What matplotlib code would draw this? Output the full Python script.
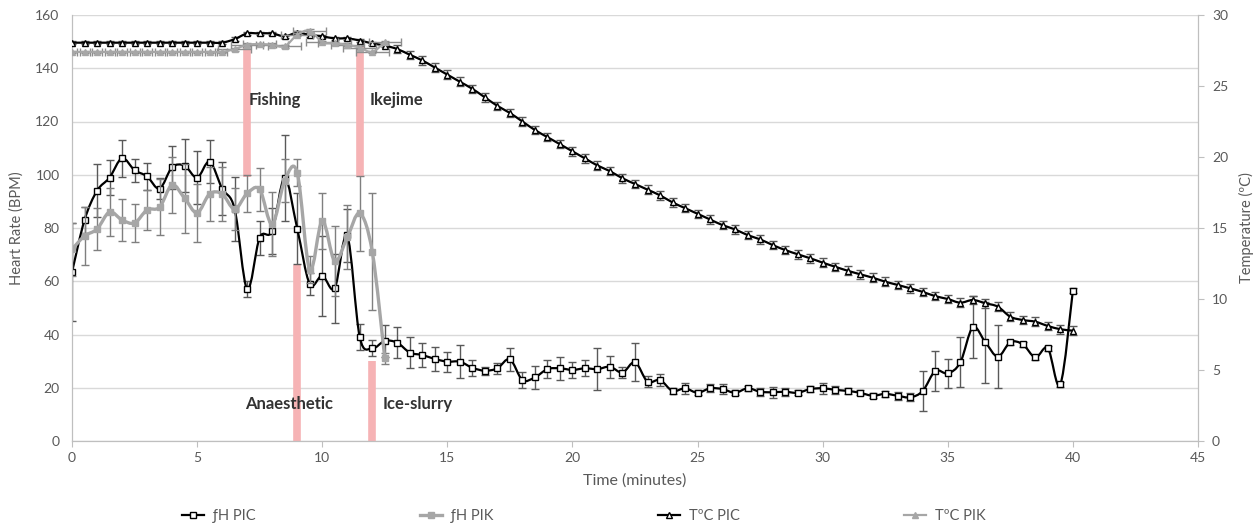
import numpy as np
import matplotlib.pyplot as plt
from matplotlib.path import Path
from matplotlib.patches import PathPatch
from matplotlib.lines import Line2D

plt.rcParams['font.family'] = ['Lato', 'DejaVu Sans']

# time axis (minutes), sampled every 0.5 min
t_pic = np.arange(0, 40.5, 0.5)
t_pik = np.arange(0, 13.0, 0.5)

# heart rate PIC (BPM) and its error
hr_pic = [63.4, 83.0, 94.0, 98.9, 106.2, 101.7, 99.4, 94.8, 102.8, 103.4,
          98.9, 104.9, 94.8, 87.1, 57.0, 76.4, 78.9, 98.8, 79.8, 59.0,
          62.1, 57.4, 77.2, 39.0, 34.8, 37.6, 36.9, 33.2, 32.3, 30.8,
          29.8, 29.8, 27.5, 26.4, 27.3, 30.7, 22.9, 23.9, 27.0, 27.3,
          26.7, 27.3, 27.0, 27.9, 25.7, 29.6, 22.3, 22.9, 18.8, 19.8,
          18.1, 19.8, 19.5, 18.1, 19.8, 18.5, 18.3, 18.5, 18.1, 19.5,
          19.8, 19.2, 18.8, 18.1, 17.0, 17.7, 17.0, 16.4, 18.8, 26.3,
          25.4, 29.5, 42.7, 37.1, 31.7, 37.1, 36.3, 31.4, 34.8, 21.3,
          56.5]
hr_pic_err = [18.5, 5, 10, 6.5, 7, 4.3, 5, 4, 8, 10,
              10, 8, 10, 12, 3, 6.4, 8.5, 16, 13.5, 4,
              15, 13, 10, 5, 3, 6, 5.8, 5.8, 4.5, 4.4,
              3.8, 6.3, 3.1, 1.5, 2.1, 4.4, 3, 4.3, 3.4, 4.3,
              3.1, 3, 8, 4.2, 2.2, 7.2, 2.2, 2.2, 1, 2,
              1, 1.5, 2, 1, 1, 1.5, 2, 1.5, 1, 1,
              2, 1.5, 1, 1, 1, 1, 1.5, 1.5, 7.5, 7.5,
              5.5, 9.4, 11.7, 15.2, 11.7, 1, 1, 1, 1, 1,
              1]

# heart rate PIK (BPM) and its error
hr_pik = [72.0, 77.0, 79.6, 86.0, 83.0, 81.9, 86.8, 87.8, 96.2, 91.2,
          85.7, 92.8, 92.8, 87.1, 93.0, 94.5, 81.4, 97.8, 100.8, 64.3,
          82.7, 67.6, 76.5, 85.5, 71.1, 31.1]
hr_pik_err = [10, 11, 8, 9, 8, 7, 7.5, 10.6, 10.6, 13,
              11, 10, 10, 8, 7, 8, 12, 8, 5, 5,
              10.6, 13, 12, 14, 22, 2]

# temperature PIC (ºC)
temp_pic = [28.05, 28.05, 28.05, 28.05, 28.05, 28.05, 28.05, 28.05, 28.05, 28.05,
            28.05, 28.05, 28.05, 28.3, 28.7, 28.7, 28.7, 28.5, 28.75, 28.6,
            28.5, 28.35, 28.35, 28.2, 28.0, 27.85, 27.6, 27.2, 26.8, 26.3,
            25.8, 25.3, 24.8, 24.2, 23.6, 23.1, 22.5, 21.9, 21.4, 20.9,
            20.4, 19.9, 19.4, 19.0, 18.5, 18.1, 17.7, 17.3, 16.8, 16.4,
            16.0, 15.6, 15.2, 14.9, 14.5, 14.2, 13.8, 13.45, 13.15, 12.87,
            12.56, 12.27, 11.99, 11.74, 11.5, 11.22, 10.99, 10.75, 10.5, 10.2,
            10.0, 9.74, 9.93, 9.70, 9.46, 8.75, 8.52, 8.40, 8.10, 7.87,
            7.77]
temp_pic_err = [0.12] * 26 + [0.3] * 55

# temperature PIK (ºC)
temp_pik = [27.4, 27.4, 27.4, 27.4, 27.4, 27.4, 27.4, 27.4, 27.4, 27.4,
            27.4, 27.4, 27.4, 27.6, 27.9, 27.95, 27.9, 27.8, 28.6, 28.9,
            28.1, 28.0, 27.9, 27.7, 27.4, 28.1]
temp_pik_err = [0.1] * 26
temp_pik_xerr = [0.2] * 13 + [0.65] * 13

# event markers: (label, time, BPM from, BPM to, label time, label BPM)
events = [('Fishing', 7.0, 99, 148, 7.05, 128),
          ('Ikejime', 11.5, 99, 148, 11.9, 128),
          ('Anaesthetic', 9.0, 0, 66, 6.9, 14),
          ('Ice-slurry', 12.0, 0, 30, 12.4, 14)]


def smooth_path(x, y):
    # excel-like smoothed line drawn as bezier curves through the points
    x = np.asarray(x, float)
    y = np.asarray(y, float)
    verts = [(x[0], y[0])]
    codes = [Path.MOVETO]
    n = len(x)
    for i in range(n - 1):
        i0 = max(i - 1, 0)
        i3 = min(i + 2, n - 1)
        c1 = (x[i] + (x[i + 1] - x[i0]) / 6, y[i] + (y[i + 1] - y[i0]) / 6)
        c2 = (x[i + 1] - (x[i3] - x[i]) / 6, y[i + 1] - (y[i3] - y[i]) / 6)
        verts += [c1, c2, (x[i + 1], y[i + 1])]
        codes += [Path.CURVE4] * 3
    return Path(verts, codes)


def draw_series(axis, x, y, yerr, color, lw, marker, ms, mfc, ecolor, xerr=None, z=3):
    axis.errorbar(x, y, yerr=yerr, xerr=xerr, fmt='none', ecolor=ecolor,
                  elinewidth=1, capsize=3, capthick=1, zorder=z)
    axis.add_patch(PathPatch(smooth_path(x, y), fill=False, edgecolor=color,
                             lw=lw, zorder=z + 0.1))
    axis.plot(x, y, ls='none', marker=marker, ms=ms, mfc=mfc, mec=color,
              mew=1, zorder=z + 0.2)


fig = plt.figure(figsize=(12.6, 5.24), dpi=100)
ax = fig.add_axes([72 / 1260, 1 - 441 / 524, (1198 - 72) / 1260, (441 - 15) / 524])
ax2 = ax.twinx()

txt = '#595959'
spine = '#bfbfbf'

# pink event bars
for name, tx, lo, hi, lx, ly in events:
    ax.plot([tx, tx], [lo, hi], color='#f6b3b5', lw=5.5, solid_capstyle='butt', zorder=1)
    ax.text(lx, ly, name, fontsize=12, fontweight='bold', color='#333333',
            ha='left', va='center', zorder=2)

draw_series(ax, t_pic, hr_pic, hr_pic_err, 'black', 1.6, 's', 4.8, 'white', '#595959', z=3)
draw_series(ax, t_pik, hr_pik, hr_pik_err, '#a6a6a6', 2.4, 's', 4.3, '#a6a6a6', '#7f7f7f', z=4)
draw_series(ax2, t_pic, temp_pic, temp_pic_err, 'black', 1.6, '^', 4.6, 'white', '#595959', z=3)
draw_series(ax2, t_pik, temp_pik, temp_pik_err, '#a6a6a6', 1.6, '^', 4.3, '#a6a6a6', '#8c8c8c',
            xerr=temp_pik_xerr, z=4)

ax.set_xlim(0, 45)
ax.set_ylim(0, 160)
ax2.set_ylim(0, 30)
ax.set_xticks(np.arange(0, 50, 5))
ax.set_yticks(np.arange(0, 180, 20))
ax2.set_yticks(np.arange(0, 35, 5))

ax.yaxis.grid(True, color='#d9d9d9', lw=1)
ax.set_axisbelow(True)
for a in (ax, ax2):
    a.spines['top'].set_visible(False)
    for s in ('left', 'right', 'bottom'):
        a.spines[s].set_color(spine)
ax.tick_params(axis='y', length=0, pad=9, labelsize=10, labelcolor=txt)
ax.tick_params(axis='x', length=4, color=spine, pad=4, labelsize=10, labelcolor=txt)
ax2.tick_params(axis='y', length=4, color=spine, pad=6, labelsize=10, labelcolor=txt)

ax.set_xlabel('Time (minutes)', fontsize=11.5, color=txt, labelpad=7)
ax.set_ylabel('Heart Rate (BPM)', fontsize=10.5, color=txt, labelpad=8)
ax2.set_ylabel('Temperature (ºC)', fontsize=10.5, color=txt, labelpad=8)

handles = [Line2D([], [], color='black', lw=1.6, marker='s', ms=4.8, mfc='white', mec='black'),
           Line2D([], [], color='#a6a6a6', lw=2.4, marker='s', ms=4.3, mfc='#a6a6a6', mec='#a6a6a6'),
           Line2D([], [], color='black', lw=1.6, marker='^', ms=4.6, mfc='white', mec='black'),
           Line2D([], [], color='#a6a6a6', lw=1.6, marker='^', ms=4.3, mfc='#a6a6a6', mec='#a6a6a6')]
labels = ['ƒH PIC', 'ƒH PIK', 'TºC PIC', 'TºC PIK']
fig.legend(handles, labels, loc='center', bbox_to_anchor=(584 / 1260, 1 - 516 / 524),
           ncol=4, frameon=False, fontsize=10.5, handlelength=1.5, handletextpad=0.6,
           columnspacing=11.3, labelcolor=txt)

fig.savefig('out.png', dpi=100)
